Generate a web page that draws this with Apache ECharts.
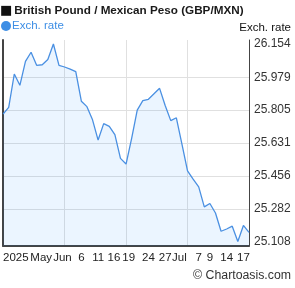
<!DOCTYPE html>
<html>
<head>
<meta charset="utf-8">
<script src="https://cdn.jsdelivr.net/npm/echarts@6/dist/echarts.min.js"></script>
<style>
html,body{margin:0;padding:0;background:#fff;}
#c{width:295px;height:288px;}
</style>
</head>
<body>
<div id="c"></div>
<script>
var dates = [
  '2025-05-19','2025-05-20','2025-05-21','2025-05-22','2025-05-23',
  '2025-05-26','2025-05-27','2025-05-28','2025-05-29','2025-05-30',
  '2025-06-02','2025-06-03','2025-06-04','2025-06-05','2025-06-06',
  '2025-06-09','2025-06-10','2025-06-11','2025-06-12','2025-06-13',
  '2025-06-16','2025-06-17','2025-06-18','2025-06-19','2025-06-20',
  '2025-06-23','2025-06-24','2025-06-25','2025-06-26','2025-06-27',
  '2025-06-30','2025-07-01','2025-07-02','2025-07-03','2025-07-04',
  '2025-07-07','2025-07-08','2025-07-09','2025-07-10','2025-07-11',
  '2025-07-14','2025-07-15','2025-07-16','2025-07-17','2025-07-18'
];
var rates = [
  25.784, 25.819, 25.996, 25.936, 26.063, 26.111, 26.042, 26.045, 26.073, 26.155,
  26.042, 26.033, 26.022, 26.009, 25.852, 25.823, 25.753, 25.646, 25.733, 25.719,
  25.675, 25.549, 25.519, 25.655, 25.805, 25.855, 25.862, 25.891, 25.920, 25.829,
  25.749, 25.764, 25.625, 25.483, 25.439, 25.398, 25.292, 25.310, 25.260, 25.163,
  25.175, 25.190, 25.109, 25.194, 25.157
];
var yTickLabels = [25.108, 25.282, 25.456, 25.631, 25.805, 25.979, 26.154];
var yGridValues = [25.282, 25.456, 25.631, 25.805, 25.979];
var yMin = 25.085, yMax = 26.176;
var xLabelIndex = [2, 7, 10, 14, 17, 20, 23, 26, 29, 31, 35, 37, 40, 43];
var xLabelText  = ['2025', 'May', 'Jun', '6', '11', '16', '19', '24', '27', 'Jul', '7', '9', '14', '17'];
var xGridIndex = [11, 22, 33];

var FONT = '"Liberation Sans", Arial, sans-serif';
var labelNudge = {'2025': 'r3', 'May': 'l2', 'Jun': 'r7', '16': 'l2', '19': 'l6', 'Jul': 'r6'};

var chart = echarts.init(document.getElementById('c'), null, {renderer: 'canvas'});
var xl = {fontFamily: FONT, fontSize: 11.5, color: '#222'};
function rs(p) { return Object.assign({padding: p}, xl); }
chart.setOption({
  animation: false,
  backgroundColor: '#fff',
  title: [
    {text: '{sq|\u25A0}{t|British Pound / Mexican Peso (GBP/MXN)}', left: 0, top: 4, padding: 0,
     textStyle: {rich: {
       sq: {fontFamily: 'DejaVu Sans', fontSize: 13, color: '#111', padding: [0, 2, 0, 0]},
       t: {fontFamily: FONT, fontSize: 11.7, fontWeight: 'bold', color: '#1a1a1a'}
     }}},
    {text: 'Exch. rate', right: 4, top: 22, padding: 0,
     textStyle: {fontFamily: FONT, fontSize: 11.5, fontWeight: 'normal', color: '#111'}},
    {text: '\u00A9 Chartoasis.com', right: 4, top: 270, padding: 0,
     textStyle: {fontFamily: FONT, fontSize: 12.3, fontWeight: 'normal', color: '#333'}}
  ],
  legend: {
    left: 1, top: 20, padding: 0, itemWidth: 10, itemHeight: 10, icon: 'circle',
    data: ['Exch. rate'],
    textStyle: {fontFamily: FONT, fontSize: 11.5, color: '#3d8ee5', padding: [0, 0, 0, -4]}
  },
  grid: {left: 1, right: 46, top: 40, bottom: 42, containLabel: false},
  xAxis: {
    type: 'category', data: dates, boundaryGap: false,
    axisLine: {show: true, lineStyle: {color: '#444', width: 2}},
    axisTick: {show: false},
    axisLabel: {
      margin: 6, fontFamily: FONT, fontSize: 11.5, color: '#222',
      interval: function (i) { return xLabelIndex.indexOf(i) >= 0; },
      formatter: function (v, i) {
        var k = xLabelIndex.indexOf(i);
        if (k < 0) return '';
        var t = xLabelText[k];
        return labelNudge[t] ? '{' + labelNudge[t] + '|' + t + '}' : t;
      },
      rich: {
        r3: rs([0, 0, 0, 3]), r6: rs([0, 0, 0, 6]), r7: rs([0, 0, 0, 7]),
        l2: rs([0, 2, 0, 0]), l6: rs([0, 6, 0, 0])
      }
    },
    splitLine: {show: true, interval: function (i) { return xGridIndex.indexOf(i) >= 0; },
      lineStyle: {color: '#e0e0e0', width: 1}}
  },
  yAxis: [
    {
      type: 'value', position: 'right', min: yMin, max: yMax,
      axisLine: {show: true, lineStyle: {color: '#444', width: 1}},
      axisTick: {show: false, customValues: yGridValues},
      axisLabel: {customValues: yTickLabels, margin: 5, fontFamily: FONT, fontSize: 12, color: '#333',
        formatter: function (v) { return v.toFixed(3); }},
      splitLine: {show: true, lineStyle: {color: '#e0e0e0', width: 1}}
    },
    {
      type: 'value', position: 'left', min: yMin, max: yMax,
      axisLine: {show: true, lineStyle: {color: '#444', width: 2}},
      axisTick: {show: false}, axisLabel: {show: false}, splitLine: {show: false}
    }
  ],
  series: [{
    name: 'Exch. rate', type: 'line', data: rates, yAxisIndex: 0,
    showSymbol: false, symbol: 'none',
    lineStyle: {color: '#4a90e2', width: 1.3},
    itemStyle: {color: '#3d8ee5'},
    areaStyle: {color: 'rgba(0,128,255,0.08)', opacity: 1}
  }]
});
</script>
</body>
</html>
